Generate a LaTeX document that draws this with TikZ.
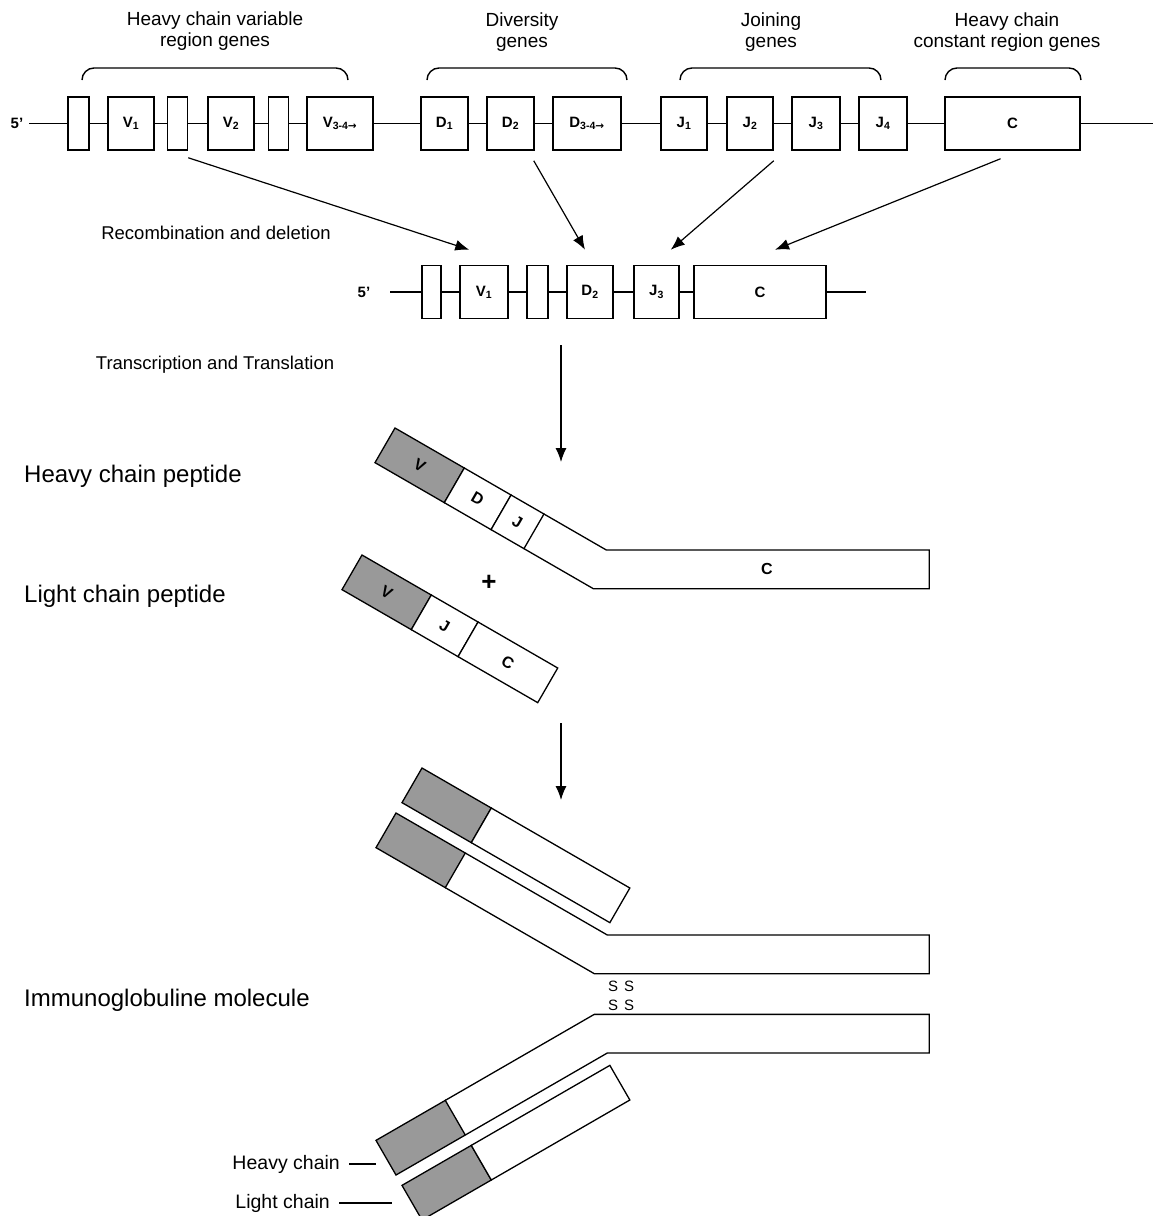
\documentclass[tikz,border=0pt]{standalone}
\usepackage{fontspec}
\setmainfont{Liberation Sans}
\newfontfamily\arrowfont{DejaVu Sans}
\definecolor{VGray}{RGB}{153,153,153}
\usetikzlibrary{arrows.meta}

\begin{document}
\begin{tikzpicture}[x=1pt, y=-1pt,
    gene/.style={draw, line width=1.5pt, minimum height=53pt, inner sep=0pt, font=\fontsize{15}{18}\selectfont\bfseries},
    prime/.style={font=\fontsize{15}{18}\selectfont\bfseries},
    dna/.style={line width=1.5pt},
    grp/.style={align=center, font=\fontsize{19}{21}\selectfont},
    brace/.style={line width=1.4pt, rounded corners=12pt},
    stagelab/.style={inner sep=0pt, font=\fontsize{18.5}{22}\selectfont},
    biglab/.style={anchor=west, inner sep=0pt, font=\fontsize{24}{28}\selectfont},
    flow/.style={line width=1.2pt, -{Latex[length=14pt, width=11pt]}},
    vreg/.style={draw, line width=1.3pt, fill=VGray},
    seg/.style={draw, line width=1.3pt, fill=white},
    strip/.style={line width=1.3pt},
    plab/.style={font=\fontsize{16}{16}\selectfont\bfseries, transform shape},
  ]
  \fill[white] (0,0) rectangle (1153,1216);
  \useasboundingbox (0,0) rectangle (1153,1216);

  % Germline genes
  \node[grp] (vlab) at (215,31) {Heavy chain variable\\region genes};
  \node[grp] (dlab) at (522,32) {Diversity\\genes};
  \node[grp] (jlab) at (771,32) {Joining\\genes};
  \node[grp] (clab) at (1007,32) {Heavy chain\\constant region genes};
  \draw[brace] (82,80) -- (82,68) -- (348,68) -- (348,80);
  \draw[brace] (427,80) -- (427,68) -- (627,68) -- (627,80);
  \draw[brace] (680,80) -- (680,68) -- (881,68) -- (881,80);
  \draw[brace] (945,80) -- (945,68) -- (1081,68) -- (1081,80);

  \node[prime] (fiveT) at (17,123.5) {5’};
  \coordinate (sT) at (29,123.5);
  \node[gene, minimum width=21pt] (b1) at (78.5,123.5) {};
  \node[gene, minimum width=46pt] (v1) at (131,123.5) {V\textsubscript{1}};
  \node[gene, minimum width=20pt] (b2) at (177.5,123.5) {};
  \node[gene, minimum width=46pt] (v2) at (231,123.5) {V\textsubscript{2}};
  \node[gene, minimum width=20pt] (b3) at (278.5,123.5) {};
  \node[gene, minimum width=66pt] (v34) at (340,123.5) {V\textsubscript{3-4{\arrowfont →}}};
  \node[gene, minimum width=47pt] (d1) at (444.5,123.5) {D\textsubscript{1}};
  \node[gene, minimum width=47pt] (d2) at (510.5,123.5) {D\textsubscript{2}};
  \node[gene, minimum width=68pt] (d34) at (587,123.5) {D\textsubscript{3-4{\arrowfont →}}};
  \node[gene, minimum width=46pt] (j1) at (684,123.5) {J\textsubscript{1}};
  \node[gene, minimum width=46pt] (j2) at (750,123.5) {J\textsubscript{2}};
  \node[gene, minimum width=48pt] (j3) at (816,123.5) {J\textsubscript{3}};
  \node[gene, minimum width=48pt] (j4) at (883,123.5) {J\textsubscript{4}};
  \node[gene, minimum width=135pt] (cc) at (1012.5,123.5) {C};
  \coordinate (eT) at (1153,123.5);
  \draw[dna] (sT) -- (b1) (b1) -- (v1) (v1) -- (b2) (b2) -- (v2) (v2) -- (b3) (b3) -- (v34)
    (v34) -- (d1) (d1) -- (d2) (d2) -- (d34) (d34) -- (j1) (j1) -- (j2) (j2) -- (j3)
    (j3) -- (j4) (j4) -- (cc) (cc) -- (eT);

  % Rearranged gene
  \node[stagelab] (recomb) at (216,233) {Recombination and deletion};
  \node[prime] (fiveM) at (364,292) {5’};
  \coordinate (sM) at (390,292);
  \node[gene, minimum width=19pt] (mb1) at (431.5,292) {};
  \node[gene, minimum width=48pt] (mv1) at (484,292) {V\textsubscript{1}};
  \node[gene, minimum width=21pt] (mb2) at (537.5,292) {};
  \node[gene, minimum width=46pt] (md2) at (590,292) {D\textsubscript{2}};
  \node[gene, minimum width=45pt] (mj3) at (656.5,292) {J\textsubscript{3}};
  \node[gene, minimum width=132pt] (mc) at (760,292) {C};
  \coordinate (eM) at (866,292);
  \draw[dna] (sM) -- (mb1) (mb1) -- (mv1) (mv1) -- (mb2) (mb2) -- (md2) (md2) -- (mj3)
    (mj3) -- (mc) (mc) -- (eM);

  \draw[flow] ([shift={(0,7)}]b2.south east) -- ([shift={(10,-15)}]mv1.north west);
  \draw[flow] ([shift={(-1,10)}]d2.south east) -- ([shift={(-5,-15)}]md2.north);
  \draw[flow] ([shift={(0,10)}]j2.south east) -- ([shift={(-9,-15)}]mj3.north east);
  \draw[flow] ([shift={(-12,8)}]cc.south) -- ([shift={(15,-15)}]mc.north);

  % Peptides
  \node[stagelab] (transl) at (215,365) {Transcription and Translation};
  \coordinate (tA) at (561,345);
  \coordinate (tB) at (561,462);
  \draw[flow] (tA) -- (tB);
  \node[biglab] (hplab) at (24,476) {Heavy chain peptide};
  \node[biglab] (lplab) at (24,596) {Light chain peptide};

  \begin{scope}[shift={(395,428)}, rotate=-30]
    \draw[vreg] (0,0) rectangle (80,40);
    \draw[seg] (80,0) rectangle (134,40);
    \draw[seg] (134,0) rectangle (172,40);
    \node[plab] (hpV) at (40,20) {V};
    \node[plab] (hpD) at (107,20) {D};
    \node[plab] (hpJ) at (153,20) {J};
    \coordinate (hpA) at (172,0);
    \coordinate (hpB) at (172,40);
    \coordinate (hpU) at (244,0);
    \coordinate (hpL) at (252,40);
  \end{scope}
  \draw[strip] (hpA) -- (hpU) -- ++(323,0) |- (hpL) -- (hpB);
  \node[plab] (hpC) at (767,569) {C};
  \node[font=\fontsize{26}{26}\selectfont\bfseries] (plus) at (489,583) {+};

  \begin{scope}[shift={(362,555)}, rotate=-30]
    \draw[vreg] (0,0) rectangle (80,40);
    \draw[seg] (80,0) rectangle (134,40);
    \draw[seg] (134,0) rectangle (226,40);
    \node[plab] (lpV) at (40,20) {V};
    \node[plab] (lpJ) at (107,20) {J};
    \node[plab] (lpC) at (180,20) {C};
  \end{scope}

  % Immunoglobuline
  \coordinate (aA) at (561,723);
  \coordinate (aB) at (561,800);
  \draw[flow] (aA) -- (aB);
  \node[biglab] (iglab) at (24,1000) {Immunoglobuline molecule};
  \foreach \s/\dy in {1/0, -1/1988} {
    \begin{scope}[shift={(0,\dy)}, yscale=\s]
      \begin{scope}[shift={(396,813)}, rotate=-30]
        \draw[vreg] (0,0) rectangle (80,40);
        \coordinate (mhA) at (80,0);
        \coordinate (mhB) at (80,40);
        \coordinate (mhU) at (244,0);
        \coordinate (mhL) at (252,40);
      \end{scope}
      \draw[strip] (mhA) -- (mhU) -- ++(322,0) |- (mhL) -- (mhB);
      \begin{scope}[shift={(422,768)}, rotate=-30]
        \draw[vreg] (0,0) rectangle (80,40);
        \draw[seg] (80,0) rectangle (240,40);
      \end{scope}
    \end{scope}
  }
  \node[align=center, font=\fontsize{15}{19}\selectfont] (ssb) at (621,995.5) {S\hspace{6pt}S\\S\hspace{6pt}S};

  \node[anchor=east, inner xsep=9pt, font=\fontsize{19.5}{22}\selectfont] (hclab) at (349,1164) {Heavy chain};
  \coordinate (hcend) at (376,1164);
  \draw[dna] (hclab) -- (hcend);
  \node[anchor=east, inner xsep=9pt, font=\fontsize{19.5}{22}\selectfont] (lclab) at (339,1203) {Light chain};
  \coordinate (lcend) at (392,1203);
  \draw[dna] (lclab) -- (lcend);
\end{tikzpicture}
\end{document}
